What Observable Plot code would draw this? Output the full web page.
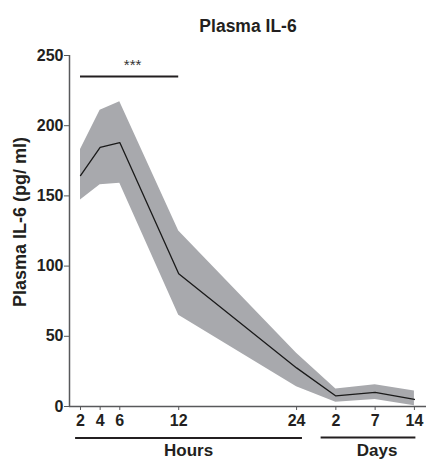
<!DOCTYPE html>
<html>
<head>
<meta charset="utf-8">
<script src="https://cdn.jsdelivr.net/npm/d3@7"></script>
<script src="https://cdn.jsdelivr.net/npm/@observablehq/plot@0.6"></script>
<style>
  html, body { margin: 0; padding: 0; background: #fff; }
  svg { display: block; }
</style>
</head>
<body>
<div id="chart"></div>
<script>
// ---- data ----
const timeLabels = ["2", "4", "6", "12", "24", "2", "7", "14"];
const timeUnits  = ["h", "h", "h", "h", "h", "d", "d", "d"];
const timeValues = [2, 4, 6, 12, 24, 2, 7, 14];
const meanIL6  = [164.5, 184.5, 188, 94.5, 27.5, 7.5, 10, 5];
const upperIL6 = [183, 211, 217, 125, 38, 12.5, 15.5, 11];
const lowerIL6 = [147, 158, 159, 65, 14, 3, 5, 0.5];
const yTicks = [0, 50, 100, 150, 200, 250];
const chartTitle = "Plasma IL-6";
const yLabel = "Plasma IL-6 (pg/ ml)";
const significance = {from: 2, to: 12, value: 235, label: "***"};
const groupLabels = ["Hours", "Days"];

// axis position: hours on a linear hour scale, days in evenly spaced slots after 24 h
let dayRank = 0;
const axisPos = timeValues.map((v, i) => timeUnits[i] === "h" ? v : 24 + 4 * (++dayRank));
const rows = timeValues.map((v, i) => ({
  pos: axisPos[i], label: timeLabels[i], mean: meanIL6[i], hi: upperIL6[i], lo: lowerIL6[i]
}));
const labelByPos = new Map(rows.map(d => [d.pos, d.label]));
const hourPos = axisPos.filter((p, i) => timeUnits[i] === "h");
const dayPos = axisPos.filter((p, i) => timeUnits[i] === "d");

const font = "'Liberation Sans', Arial, Helvetica, sans-serif";
const axisGray = "#58595b";
const textColor = "#231f20";

const chart = Plot.plot({
  width: 428,
  height: 462,
  marginLeft: 69,
  marginRight: 2,
  marginTop: 55,
  marginBottom: 56,
  style: {fontFamily: font, fontSize: "16px", fontWeight: "bold", color: textColor, background: "#fff"},
  x: {type: "linear", domain: [0.88, 37.23], axis: null},
  y: {type: "linear", domain: [0, 250], axis: null},
  marks: [
    Plot.areaY(rows, {x: "pos", y1: "lo", y2: "hi", fill: "#a8a9ad"}),
    Plot.lineY(rows, {x: "pos", y: "mean", stroke: "#1a1a1a", strokeWidth: 1.3}),
    // axis lines
    Plot.ruleY([0], {stroke: axisGray, strokeWidth: 1.5}),
    Plot.ruleX([0.88], {y1: 0, y2: 250, stroke: axisGray, strokeWidth: 1.5}),
    Plot.axisY(yTicks, {
      tickSize: 5, tickPadding: 1, stroke: axisGray, fill: textColor,
      fontSize: 16, fontWeight: "bold", label: null
    }),
    Plot.axisX(axisPos, {
      tickSize: 4, tickPadding: 4, stroke: axisGray, fill: textColor,
      fontSize: 16, fontWeight: "bold", label: null,
      tickFormat: d => labelByPos.get(d)
    }),
    // significance bar
    Plot.ruleY([significance.value], {x1: significance.from, x2: significance.to, stroke: "#231f20", strokeWidth: 2}),
    Plot.text([significance.label], {
      x: (significance.from + significance.to) / 2 + 0.3, y: significance.value,
      dy: -7, lineAnchor: "bottom", fontSize: 15, fontWeight: "normal", fill: "#333", letterSpacing: "1px"
    }),
    // group bars below the axis
    Plot.ruleY([-22.5], {x1: hourPos[0] - 0.5, x2: hourPos[hourPos.length - 1] + 0.6, stroke: "#231f20", strokeWidth: 2}),
    Plot.ruleY([-22], {x1: dayPos[0] - 1.5, x2: dayPos[dayPos.length - 1] + 0.15, stroke: "#231f20", strokeWidth: 2}),
    Plot.text([groupLabels[0]], {x: 13, y: -35.5, lineAnchor: "bottom", fontSize: 17, fontWeight: "bold", fill: textColor}),
    Plot.text([groupLabels[1]], {x: 32.2, y: -35.5, lineAnchor: "bottom", fontSize: 17, fontWeight: "bold", fill: textColor}),
    // title
    Plot.text([chartTitle], {frameAnchor: "top", dy: -24, lineAnchor: "bottom", fontSize: 17.5, fontWeight: "bold", fill: textColor}),
    // y label
    Plot.text([yLabel], {frameAnchor: "left", dx: -49, dy: -9, rotate: -90, lineAnchor: "middle", textAnchor: "middle", fontSize: 18, fontWeight: "bold", fill: textColor})
  ]
});
document.getElementById("chart").appendChild(chart);
</script>
</body>
</html>
